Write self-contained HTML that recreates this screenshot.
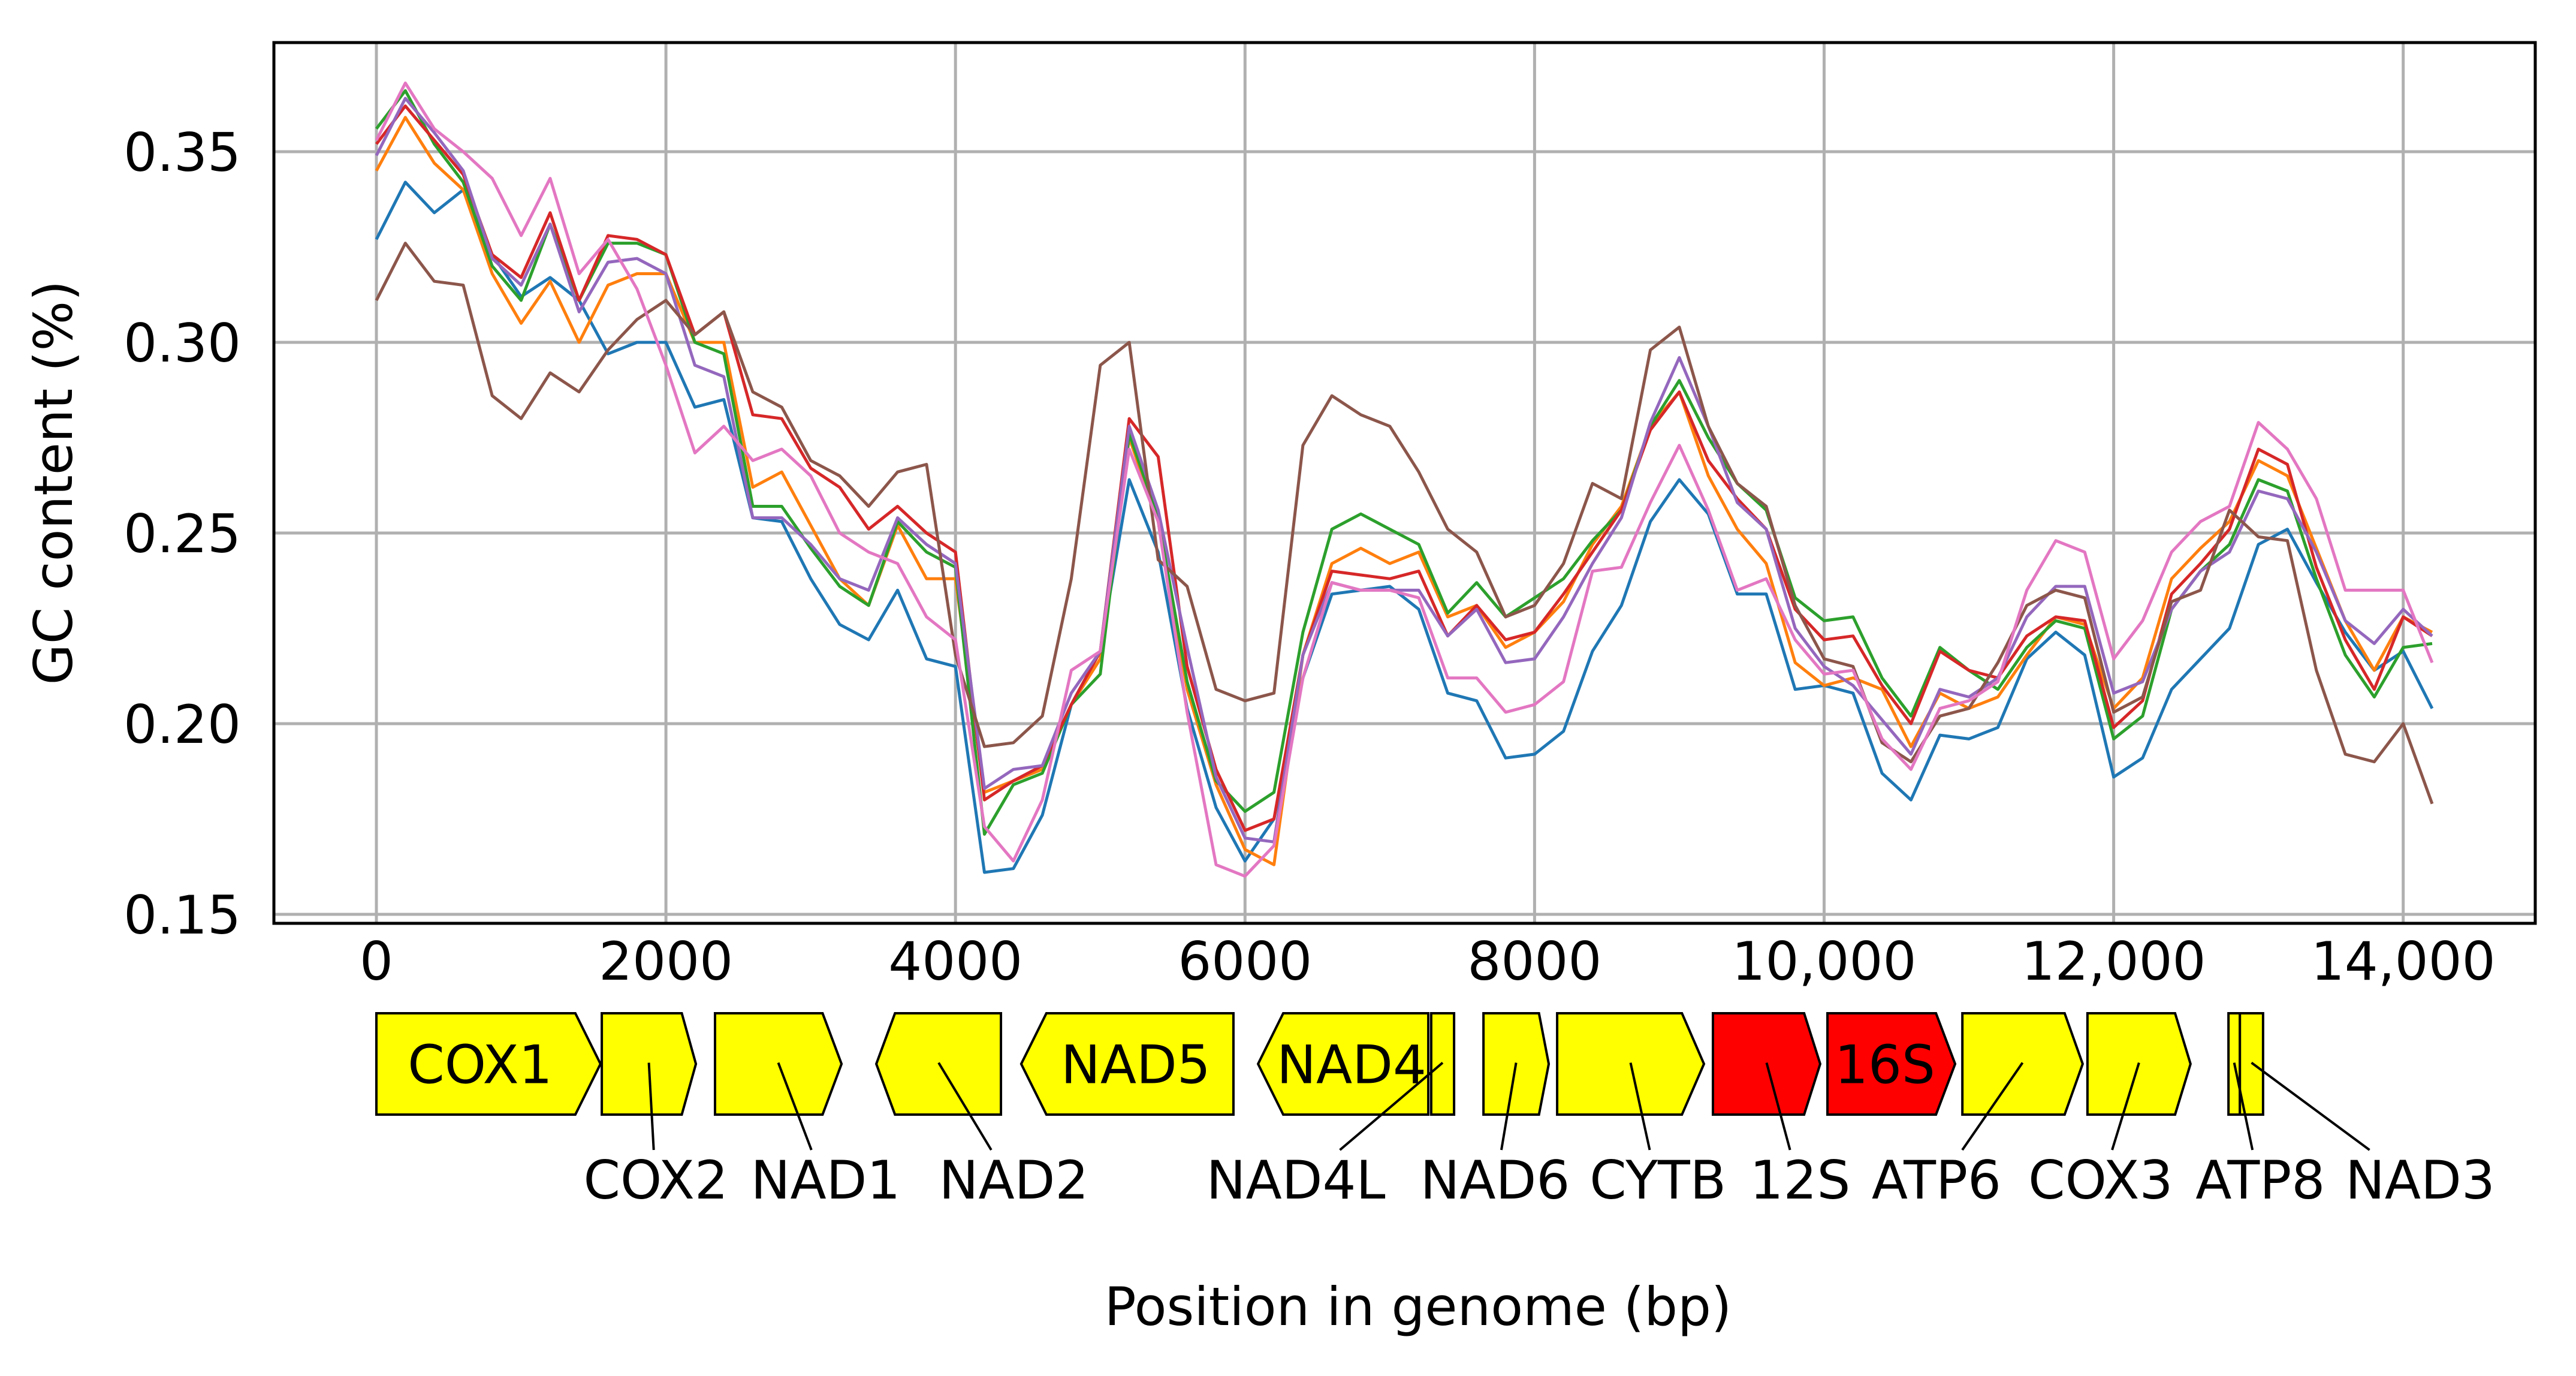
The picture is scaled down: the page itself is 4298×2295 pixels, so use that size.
<!DOCTYPE html>
<html><head><meta charset="utf-8"><style>
html,body{margin:0;padding:0;background:#fff}
svg{display:block;font-family:"DejaVu Sans","Liberation Sans",sans-serif}
</style></head><body>
<svg id="chart" width="4298" height="2295" viewBox="0 0 4298 2295" xmlns="http://www.w3.org/2000/svg">
<rect x="0" y="0" width="4298" height="2295" fill="#fff"/>
<g id="grid"></g>
<g id="series"></g>
<rect x="457" y="71" width="3773" height="1469" fill="none" stroke="#000" stroke-width="5"/>
<g id="yticks"></g>
<g id="xticks"></g>
<text x="120" y="805" font-size="88" text-anchor="middle" transform="rotate(-90 120 805)">GC content (%)</text>
<g id="genes"></g>
<text x="2366" y="2210" font-size="88" text-anchor="middle">Position in genome (bp)</text>
</svg>
<script>
const STEP_BP = 200;
const yTicks = [0.15, 0.20, 0.25, 0.30, 0.35];
const yTickLabels = ["0.15", "0.20", "0.25", "0.30", "0.35"];
const xTicks = [0, 2000, 4000, 6000, 8000, 10000, 12000, 14000];
const xTickLabels = ["0", "2000", "4000", "6000", "8000", "10,000", "12,000", "14,000"];
const seriesColors = ["#1f77b4", "#ff7f0e", "#2ca02c", "#d62728", "#9467bd", "#8c564b", "#e377c2"];
const blue = [0.327,0.342,0.334,0.340,0.323,0.312,0.317,0.311,0.297,0.300,0.300,0.283,0.285,0.254,0.253,0.238,0.226,0.222,0.235,0.217,0.215,0.161,0.162,0.176,0.205,0.219,0.264,0.245,0.204,0.178,0.164,0.175,0.212,0.234,0.235,0.236,0.230,0.208,0.206,0.191,0.192,0.198,0.219,0.231,0.253,0.264,0.255,0.234,0.234,0.209,0.210,0.208,0.187,0.180,0.197,0.196,0.199,0.217,0.224,0.218,0.186,0.191,0.209,0.217,0.225,0.247,0.251,0.237,0.224,0.214,0.219,0.204];
const orange = [0.345,0.359,0.347,0.340,0.318,0.305,0.316,0.300,0.315,0.318,0.318,0.300,0.300,0.262,0.266,0.252,0.238,0.231,0.252,0.238,0.238,0.182,0.185,0.188,0.205,0.217,0.275,0.253,0.209,0.184,0.167,0.163,0.218,0.242,0.246,0.242,0.245,0.228,0.231,0.220,0.224,0.232,0.247,0.257,0.278,0.287,0.265,0.251,0.242,0.216,0.210,0.212,0.209,0.194,0.208,0.204,0.207,0.218,0.228,0.226,0.204,0.212,0.238,0.246,0.253,0.269,0.265,0.246,0.227,0.214,0.228,0.224];
const green = [0.356,0.366,0.352,0.342,0.320,0.311,0.331,0.311,0.326,0.326,0.323,0.300,0.297,0.257,0.257,0.246,0.236,0.231,0.253,0.245,0.241,0.171,0.184,0.187,0.205,0.213,0.276,0.254,0.211,0.185,0.177,0.182,0.224,0.251,0.255,0.251,0.247,0.229,0.237,0.228,0.233,0.238,0.248,0.256,0.278,0.290,0.275,0.263,0.256,0.233,0.227,0.228,0.212,0.202,0.220,0.214,0.209,0.220,0.227,0.225,0.196,0.202,0.230,0.240,0.247,0.264,0.261,0.238,0.218,0.207,0.220,0.221];
const red = [0.352,0.362,0.353,0.344,0.323,0.317,0.334,0.311,0.328,0.327,0.323,0.302,0.308,0.281,0.280,0.267,0.262,0.251,0.257,0.250,0.245,0.180,0.185,0.189,0.205,0.219,0.280,0.270,0.215,0.188,0.172,0.175,0.218,0.240,0.239,0.238,0.240,0.223,0.231,0.222,0.224,0.234,0.245,0.256,0.277,0.287,0.269,0.259,0.251,0.230,0.222,0.223,0.210,0.200,0.219,0.214,0.212,0.223,0.228,0.227,0.199,0.206,0.234,0.242,0.251,0.272,0.268,0.241,0.222,0.209,0.228,0.223];
const purple = [0.349,0.364,0.355,0.345,0.322,0.315,0.331,0.308,0.321,0.322,0.318,0.294,0.291,0.254,0.254,0.247,0.238,0.235,0.254,0.247,0.242,0.183,0.188,0.189,0.208,0.219,0.278,0.256,0.220,0.186,0.170,0.169,0.218,0.237,0.235,0.235,0.235,0.223,0.230,0.216,0.217,0.228,0.242,0.254,0.279,0.296,0.278,0.258,0.251,0.225,0.215,0.210,0.201,0.192,0.209,0.207,0.212,0.228,0.236,0.236,0.208,0.211,0.230,0.240,0.245,0.261,0.259,0.245,0.227,0.221,0.230,0.223];
const brown = [0.311,0.326,0.316,0.315,0.286,0.280,0.292,0.287,0.298,0.306,0.311,0.302,0.308,0.287,0.283,0.269,0.265,0.257,0.266,0.268,0.218,0.194,0.195,0.202,0.238,0.294,0.300,0.243,0.236,0.209,0.206,0.208,0.273,0.286,0.281,0.278,0.266,0.251,0.245,0.228,0.231,0.242,0.263,0.259,0.298,0.304,0.278,0.263,0.257,0.231,0.217,0.215,0.195,0.190,0.202,0.204,0.216,0.231,0.235,0.233,0.203,0.207,0.232,0.235,0.256,0.249,0.248,0.214,0.192,0.190,0.200,0.179];
const pink = [0.353,0.368,0.356,0.350,0.343,0.328,0.343,0.318,0.327,0.314,0.294,0.271,0.278,0.269,0.272,0.265,0.250,0.245,0.242,0.228,0.222,0.173,0.164,0.180,0.214,0.219,0.272,0.253,0.203,0.163,0.160,0.168,0.212,0.237,0.235,0.235,0.233,0.212,0.212,0.203,0.205,0.211,0.240,0.241,0.258,0.273,0.256,0.235,0.238,0.222,0.213,0.214,0.196,0.188,0.204,0.206,0.211,0.235,0.248,0.245,0.217,0.227,0.245,0.253,0.257,0.279,0.272,0.259,0.235,0.235,0.235,0.216];
const seriesNames = ["series-blue","series-orange","series-green","series-red","series-purple","series-brown","series-pink"];
const allSeries = [blue, orange, green, red, purple, brown, pink];
const geneNames = ["COX1","COX2","NAD1","NAD2","NAD5","NAD4","NAD4L","NAD6","CYTB","12S","16S","ATP6","COX3","ATP8","NAD3"];
const geneStarts = [0,1557,2339,3453,4454,6090,7286,7647,8156,9232,10023,10955,11819,12793,12872];
const geneEnds = [1548,2207,3213,4314,5920,7266,7444,8098,9170,9973,10905,11786,12531,12872,13032];
const geneStrand = [1,1,1,-1,-1,-1,0,1,1,1,1,1,1,0,0];
const geneColors = ["#ffff00","#ffff00","#ffff00","#ffff00","#ffff00","#ffff00","#ffff00","#ffff00","#ffff00","#ff0000","#ff0000","#ffff00","#ffff00","#ffff00","#ffff00"];
const geneInside = [true,false,false,false,true,true,false,false,false,false,true,false,false,false,false];
const labelPos = [0,1930,3103,4403,0,0,6351,7727,8852,9834,0,10776,11910,13013,14117];

const NS="http://www.w3.org/2000/svg";
function xs(v){return 628 + v*0.24155;}
function ys(v){return 253 + (0.35 - v)*6360;}
function mk(tag, attrs, parent){const e=document.createElementNS(NS,tag);for(const k in attrs)e.setAttribute(k,attrs[k]);parent.appendChild(e);return e;}
const grid=document.getElementById('grid'), ser=document.getElementById('series'), yt=document.getElementById('yticks'), xt=document.getElementById('xticks'), gn=document.getElementById('genes');
yTicks.forEach((v,i)=>{
  const l=mk('line',{x1:457,x2:4230,y1:ys(v),y2:ys(v),stroke:'#b0b0b0','stroke-width':5},grid);
  
  
  const t=mk('text',{x:402,y:ys(v)+32,'font-size':88,'text-anchor':'end'},yt);
  t.textContent=yTickLabels[i];
  
  
});
xTicks.forEach((v,i)=>{
  const l=mk('line',{x1:xs(v),x2:xs(v),y1:71,y2:1540,stroke:'#b0b0b0','stroke-width':5},grid);
  
  
  const t=mk('text',{x:xs(v),y:1634,'font-size':88,'text-anchor':'middle'},xt);
  t.textContent=xTickLabels[i];
  
  
});
allSeries.forEach((arr,si)=>{
  const pts=arr.map((v,i)=>xs(i*STEP_BP).toFixed(1)+','+ys(v).toFixed(1)).join(' ');
  const p=mk('polyline',{points:pts,fill:'none',stroke:seriesColors[si],'stroke-width':5,'stroke-linejoin':'round'},ser);
  
  
});
const TOP=1690, BOT=1859, MID=(TOP+BOT)/2;
geneNames.forEach((name,i)=>{
  const x1=xs(geneStarts[i]), x2=xs(geneEnds[i]), w=x2-x1;
  const d=Math.min(42,w*0.15);
  let pts;
  if(geneStrand[i]===1) pts=[[x1,TOP],[x2-d,TOP],[x2,MID],[x2-d,BOT],[x1,BOT]];
  else if(geneStrand[i]===-1) pts=[[x1+d,TOP],[x2,TOP],[x2,BOT],[x1+d,BOT],[x1,MID]];
  else pts=[[x1,TOP],[x2,TOP],[x2,BOT],[x1,BOT]];
  const g=mk('polygon',{points:pts.map(p=>p.join(',')).join(' '),fill:geneColors[i],stroke:'#000','stroke-width':4},gn);
  
  
  if(geneInside[i]){
    const t=mk('text',{x:(x1+x2)/2+(geneStrand[i]===-1?d/3:-d/3),y:MID+32,'font-size':88,'text-anchor':'middle'},gn);
    t.textContent=name;
    
    
  }
});
geneNames.forEach((name,i)=>{
  if(geneInside[i]) return;
  const cx=(xs(geneStarts[i])+xs(geneEnds[i]))/2;
  const lx=xs(labelPos[i]);
  const ln=mk('line',{x1:cx,y1:MID-2,x2:lx+(cx-lx)*0.3,y2:1918,stroke:'#000','stroke-width':4},gn);
  
  
  const t=mk('text',{x:lx,y:1999,'font-size':88,'text-anchor':'middle'},gn);
  t.textContent=name;
  
  
});
</script>
</body></html>
